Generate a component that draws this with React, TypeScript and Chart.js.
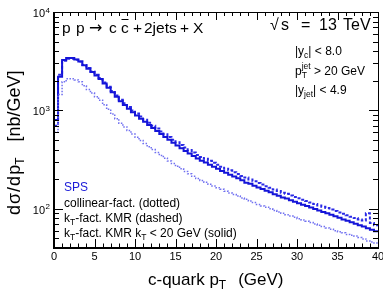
import React, { useEffect, useRef } from 'react';
import { Chart, registerables } from 'chart.js';

Chart.register(...registerables);

// c-quark pT bin edges (GeV)
const binEdges = [0,0.5,1,1.5,2,2.5,3,3.5,4,4.5,5,5.5,6,6.5,7,7.5,8,8.5,9,9.5,10,10.5,11,11.5,12,12.5,13,13.5,14,14.5,15,15.5,16,16.5,17,17.5,18,18.5,19,19.5,20,20.5,21,21.5,22,22.5,23,23.5,24,24.5,25,25.5,26,26.5,27,27.5,28,28.5,29,29.5,30,30.5,31,31.5,32,32.5,33,33.5,34,34.5,35,35.5,36,36.5,37,37.5,38,38.5,39,39.5,40];

// kT-fact. KMR kT < 20 GeV (solid)
const solidKT20 = [
  800, 2200, 3250, 3400, 3400, 3300, 3150, 2880, 2655, 2450,
  2260, 2085, 1880, 1695, 1528, 1377, 1242, 1138, 1042, 959,
  889, 824, 766, 711, 662, 617, 575, 537, 502, 470,
  441, 413, 388, 365, 344, 324, 308, 296, 280, 267,
  255, 243, 232, 222, 213, 204, 195, 184, 180, 172,
  165, 159, 153, 147, 141, 136, 130, 127, 122, 118,
  114, 110, 107, 103, 99.5, 96, 93, 90, 87, 84,
  81, 78, 75.5, 73, 70.5, 68, 66, 63.5, 61.4, 59.3
];

// kT-fact. KMR (dashed)
const dashedKMR = [
  700, 2300, 3200, 3350, 3350, 3280, 3150, 2900, 2690, 2490,
  2300, 2130, 1920, 1740, 1575, 1420, 1285, 1180, 1085, 1000,
  930, 865, 806, 750, 700, 655, 611, 572, 537, 504,
  474, 445, 419, 395, 373, 353, 337, 322, 308, 294,
  281, 268, 256, 246, 236, 226, 216, 208, 199, 191,
  183, 177, 170, 164, 157, 152, 146, 142, 137, 132,
  128, 124, 120, 116, 112, 108, 105, 102, 98.5, 95,
  92, 89, 86, 83, 80.5, 78, 76, 90, 72, 68
];

// collinear-fact. (dotted)
const dottedColl = [
  600, 1450, 1950, 2100, 2100, 2040, 1950, 1780, 1630, 1500,
  1380, 1270, 1140, 1025, 920, 825, 740, 680, 625, 576,
  535, 495, 460, 428, 400, 374, 349, 327, 306, 288,
  271, 255, 240, 227, 214, 203, 194, 186, 178, 171,
  164, 158, 151, 145, 140, 135, 129, 125, 120, 116,
  111, 107, 104, 100, 96, 93, 90, 87, 84.5, 82,
  79.5, 77, 75, 72.5, 70, 68, 66, 64, 62, 60,
  58.5, 57, 55, 54, 53, 51, 49.5, 47, 46, 45
];

const xTickLabels = [0, 5, 10, 15, 20, 25, 30, 35, 40];
const yDecadeExponents = [2, 3, 4];
const legendLines = ['collinear-fact. (dotted)', '-fact. KMR (dashed)', '-fact. KMR k', ' < 20 GeV (solid)'];

const FONT = '"Liberation Sans", Arial, Helvetica, sans-serif';

function toPoints(vals: number[]) {
  return binEdges.map((x, i) => ({ x, y: vals[Math.min(i, vals.length - 1)] }));
}

type Part = { t: string; s: number; dy?: number; noAdvance?: boolean; gap?: number; family?: string };
function rich(ctx: CanvasRenderingContext2D, x: number, y: number, parts: Part[]) {
  let cx = x;
  let held = 0;
  for (const p of parts) {
    ctx.font = `${p.s}px ${p.family || FONT}`;
    ctx.fillText(p.t, cx, y + (p.dy || 0));
    const w = ctx.measureText(p.t).width;
    if (p.noAdvance) {
      held = Math.max(held, w);
    } else {
      cx += Math.max(w, held) + (p.gap || 0);
      held = 0;
    }
  }
  return cx;
}

const rootPlugin = {
  id: 'rootStyle',
  afterDraw(chart: any) {
    const { ctx, chartArea: a, scales } = chart;
    const xs = scales.x;
    const ys = scales.y;
    ctx.save();
    ctx.strokeStyle = '#000';
    ctx.fillStyle = '#000';
    // frame
    ctx.lineWidth = 1;
    ctx.beginPath();
    ctx.moveTo(a.left, a.top + 0.5);
    ctx.lineTo(a.right + 0.5, a.top + 0.5);
    ctx.lineTo(a.right + 0.5, a.bottom);
    ctx.stroke();
    ctx.lineWidth = 2;
    ctx.beginPath();
    ctx.moveTo(a.left, a.top);
    ctx.lineTo(a.left, a.bottom);
    ctx.lineTo(a.right + 1, a.bottom);
    ctx.stroke();

    // x ticks
    ctx.lineWidth = 1;
    ctx.beginPath();
    for (let v = 0; v <= 40; v++) {
      const px = Math.round(xs.getPixelForValue(v)) + 0.5;
      const major = v % 5 === 0;
      const lb = major ? 9 : 4.5;
      const lt = major ? 8 : 4;
      ctx.moveTo(px, a.bottom);
      ctx.lineTo(px, a.bottom - lb);
      ctx.moveTo(px, a.top);
      ctx.lineTo(px, a.top + lt);
    }
    // y ticks
    for (let d = 1; d <= 4; d++) {
      for (let m = 1; m <= 9; m++) {
        const v = m * Math.pow(10, d);
        if (v < 40 || v > 10000) continue;
        const py = Math.round(ys.getPixelForValue(v)) + 0.5;
        const major = m === 1;
        const l = major ? 9 : 5;
        ctx.moveTo(a.left, py);
        ctx.lineTo(a.left + l, py);
        ctx.moveTo(a.right, py);
        ctx.lineTo(a.right - l, py);
      }
    }
    ctx.stroke();

    // x tick labels
    ctx.font = `11px ${FONT}`;
    ctx.textAlign = 'center';
    ctx.textBaseline = 'alphabetic';
    for (const v of xTickLabels) {
      ctx.fillText(String(v), xs.getPixelForValue(v), 260);
    }
    // y tick labels
    for (const e of yDecadeExponents) {
      const py = ys.getPixelForValue(Math.pow(10, e));
      ctx.font = `11px ${FONT}`;
      ctx.textAlign = 'right';
      ctx.fillText('10', 45, py + 5);
      ctx.font = `8px ${FONT}`;
      ctx.textAlign = 'left';
      ctx.fillText(String(e), 45.5, py + 0.5);
    }

    ctx.textAlign = 'left';
    // title
    ctx.font = `15.5px ${FONT}`;
    ctx.fillText('p', 62, 33);
    ctx.fillText('p', 76, 33);
    ctx.font = `16px "DejaVu Sans", ${FONT}`;
    ctx.fillText('\u2192', 89, 33);
    ctx.font = `15.5px ${FONT}`;
    ctx.fillText('c', 109, 33);
    ctx.fillText('c', 121, 33);
    ctx.lineWidth = 1;
    ctx.beginPath();
    ctx.moveTo(121.5, 19.5);
    ctx.lineTo(128.5, 19.5);
    ctx.stroke();
    ctx.fillText('+', 133, 33);
    ctx.fillText('2jets', 144, 33);
    ctx.fillText('+', 180, 33);
    ctx.fillText('X', 193, 33);

    ctx.font = `16px ${FONT}`;
    ctx.fillText('\u221A', 270, 30);
    ctx.fillText('s', 281, 30);
    ctx.fillText('=', 301, 30);
    ctx.fillText('13', 319, 30);
    ctx.fillText('TeV', 343, 30);

    // cuts
    rich(ctx, 295, 55, [
      { t: '|y', s: 12 },
      { t: 'c', s: 8.5, dy: 3 },
      { t: '| < 8.0', s: 12 },
    ]);
    rich(ctx, 295, 75, [
      { t: 'p', s: 12 },
      { t: 'jet', s: 8.5, dy: -6, noAdvance: true },
      { t: 'T', s: 8.5, dy: 3 },
      { t: ' > 20 GeV', s: 12 },
    ]);
    rich(ctx, 295, 94, [
      { t: '|y', s: 12 },
      { t: 'jet', s: 8.5, dy: 3 },
      { t: '| < 4.9', s: 12 },
    ]);

    // legend
    ctx.fillStyle = '#1a1ad8';
    ctx.font = `12px ${FONT}`;
    ctx.fillText('SPS', 64, 191);
    ctx.fillStyle = '#000';
    ctx.fillText(legendLines[0], 64, 207);
    rich(ctx, 64, 222, [
      { t: 'k', s: 12 },
      { t: 'T', s: 8.5, dy: 3 },
      { t: legendLines[1], s: 12 },
    ]);
    rich(ctx, 64, 237, [
      { t: 'k', s: 12 },
      { t: 'T', s: 8.5, dy: 3 },
      { t: legendLines[2], s: 12 },
      { t: 'T', s: 8.5, dy: 3 },
      { t: legendLines[3], s: 12 },
    ]);

    // x-axis title
    const xe = rich(ctx, 148, 285, [
      { t: 'c-quark p', s: 17 },
      { t: 'T', s: 12, dy: 4 },
    ]);
    ctx.font = `17px ${FONT}`;
    ctx.fillText('(GeV)', xe + 12, 285);

    // y-axis title
    ctx.save();
    ctx.translate(20, 215);
    ctx.rotate(-Math.PI / 2);
    const ye = rich(ctx, 0, 0, [
      { t: 'd', s: 18, gap: 1 },
      { t: '\u03C3', s: 18, gap: 1 },
      { t: '/', s: 18, gap: 1 },
      { t: 'd', s: 18, gap: 1 },
      { t: 'p', s: 18 },
      { t: 'T', s: 12, dy: 4 },
    ]);
    ctx.font = `18px ${FONT}`;
    ctx.fillText('[nb/GeV]', ye + 16, 0);
    ctx.restore();

    ctx.restore();
  },
};

export default function App() {
  const ref = useRef<HTMLCanvasElement | null>(null);
  useEffect(() => {
    if (!ref.current) return;
    const chart = new Chart(ref.current, {
      type: 'line',
      data: {
        datasets: [
          {
            label: 'collinear-fact.',
            data: toPoints(dottedColl),
            stepped: 'before',
            borderColor: '#7070f0',
            borderWidth: 1.5,
            borderDash: [1.5, 1.5],
            pointRadius: 0,
            fill: false,
          },
          {
            label: 'kT-fact. KMR kT < 20 GeV',
            data: toPoints(solidKT20),
            stepped: 'before',
            borderColor: '#1414d8',
            borderWidth: 2,
            pointRadius: 0,
            fill: false,
          },
          {
            label: 'kT-fact. KMR',
            data: toPoints(dashedKMR),
            stepped: 'before',
            borderColor: '#2a2ae6',
            borderWidth: 2,
            borderDash: [3, 2],
            pointRadius: 0,
            fill: false,
          },
        ],
      },
      options: {
        animation: false,
        responsive: false,
        devicePixelRatio: 1,
        layout: { padding: { left: 54, right: 5, top: 12, bottom: 44 } },
        scales: {
          x: { type: 'linear', min: 0, max: 40, display: false },
          y: { type: 'logarithmic', min: 40, max: 10000, display: false },
        },
        plugins: { legend: { display: false }, tooltip: { enabled: false } },
      },
      plugins: [rootPlugin],
    } as any);
    return () => chart.destroy();
  }, []);
  return (
    <div style={{ position: 'fixed', left: 0, top: 0, width: 383, height: 292, background: '#fff' }}>
      <canvas ref={ref} width={383} height={292} style={{ width: 383, height: 292 }} />
    </div>
  );
}
